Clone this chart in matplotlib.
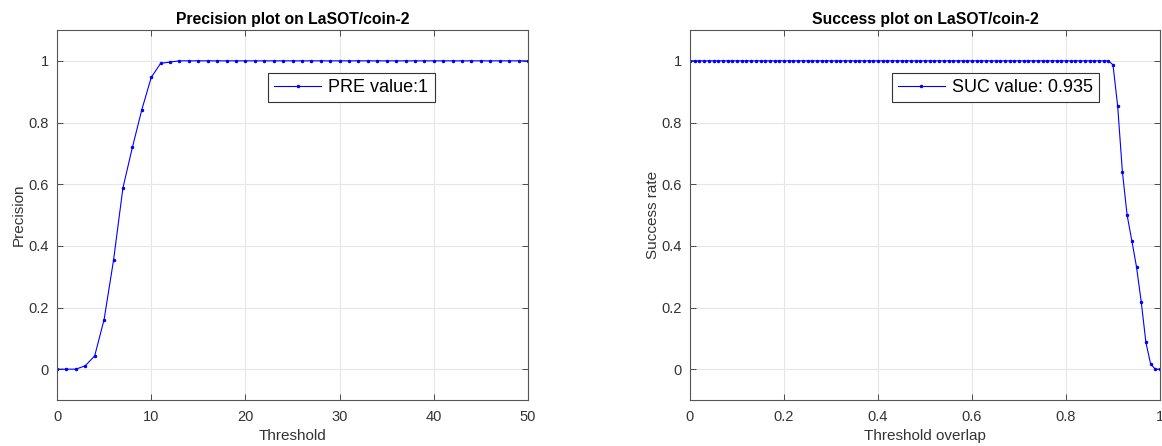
import matplotlib
matplotlib.use("Agg")
import matplotlib.pyplot as plt
import numpy as np

plt.rcParams['font.family'] = ['Liberation Sans', 'DejaVu Sans']

# Precision data: thresholds 0..50
pre_thresholds = list(range(0, 51))
pre_values = [0.0, 0.0, 0.0, 0.011, 0.043, 0.161, 0.353, 0.588, 0.719, 0.841,
              0.946, 0.992, 0.996] + [1.0] * 38

# Success data: overlap thresholds 0..1 step 0.01
suc_thresholds = [round(i * 0.01, 2) for i in range(101)]
suc_values = [1.0] * 90 + [0.987, 0.852, 0.640, 0.500, 0.417, 0.332, 0.219,
                           0.087, 0.017, 0.0, 0.0]

pre_label = "PRE value:1"
suc_label = "SUC value: 0.935"
pre_title = "Precision plot on LaSOT/coin-2"
suc_title = "Success plot on LaSOT/coin-2"

pre_xticks = [0, 10, 20, 30, 40, 50]
suc_xticks = [0, 0.2, 0.4, 0.6, 0.8, 1]
suc_xticklabels = ["0", "0.2", "0.4", "0.6", "0.8", "1"]
yticks = [0, 0.2, 0.4, 0.6, 0.8, 1]
yticklabels = ["0", "0.2", "0.4", "0.6", "0.8", "1"]

W, H = 1162, 446
fig = plt.figure(figsize=(W / 100, H / 100), dpi=100)

dark = '#333333'

def style(ax):
    ax.set_ylim(-0.1, 1.1)
    ax.set_yticks(yticks)
    ax.set_yticklabels(yticklabels)
    ax.grid(True, color='#e6e6e6', linewidth=0.8)
    ax.set_axisbelow(True)
    ax.tick_params(direction='in', top=True, right=True, length=4,
                   width=0.6, colors=dark, labelsize=10.5, labelcolor=dark)
    ax.tick_params(axis='x', pad=7.5)
    ax.tick_params(axis='y', pad=6)
    for s in ax.spines.values():
        s.set_color('#555555')
        s.set_linewidth(0.8)

def add_legend(ax, x0):
    leg = ax.legend(loc='upper left', bbox_to_anchor=(x0, 0.885), fontsize=13,
                    numpoints=1, handlelength=2.6, fancybox=False, framealpha=1,
                    edgecolor='#333333', borderpad=0.35, handletextpad=0.4,
                    borderaxespad=0)
    leg.get_frame().set_linewidth(0.8)
    return leg

ax1 = fig.add_axes([57 / W, 46 / H, 471 / W, 370 / H])
ax1.plot(pre_thresholds, pre_values, color='#0000ff', linewidth=0.8,
         marker='.', markersize=3, label=pre_label)
ax1.set_xlim(0, 50)
ax1.set_xticks(pre_xticks)
style(ax1)
ax1.set_title(pre_title, fontsize=11.3, fontweight='bold', color='black', pad=4)
ax1.set_xlabel("Threshold", fontsize=11, color=dark, labelpad=3.5)
ax1.set_ylabel("Precision", fontsize=11, color=dark, labelpad=2)
add_legend(ax1, 0.448)

ax2 = fig.add_axes([690 / W, 46 / H, 470 / W, 370 / H])
ax2.plot(suc_thresholds, suc_values, color='#0000ff', linewidth=0.8,
         marker='.', markersize=3, label=suc_label)
ax2.set_xlim(0, 1)
ax2.set_xticks(suc_xticks)
ax2.set_xticklabels(suc_xticklabels)
style(ax2)
ax2.set_title(suc_title, fontsize=11.3, fontweight='bold', color='black', pad=4)
ax2.set_xlabel("Threshold overlap", fontsize=11, color=dark, labelpad=3.5)
ax2.set_ylabel("Success rate", fontsize=11, color=dark, labelpad=1)
add_legend(ax2, 0.429)

fig.savefig("out.png", dpi=100)
